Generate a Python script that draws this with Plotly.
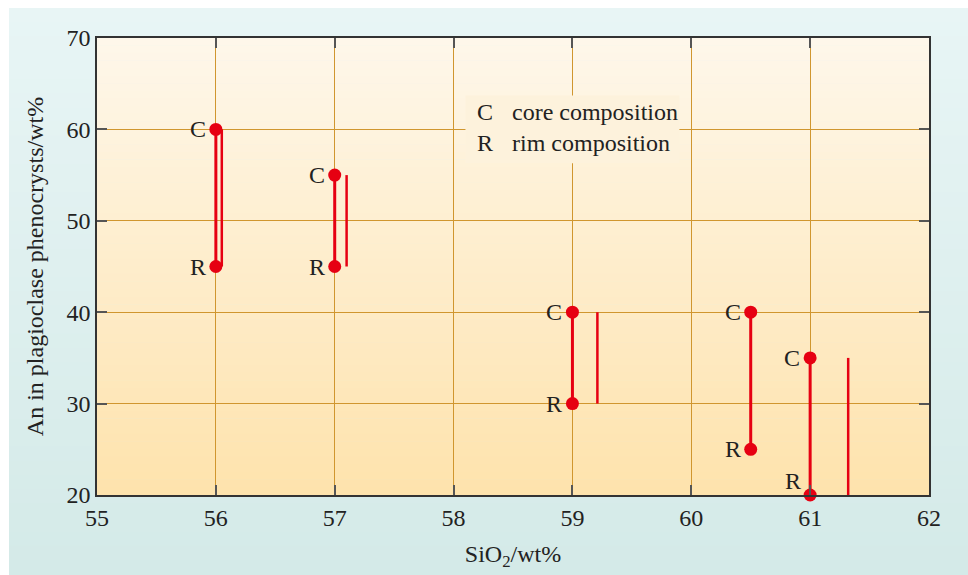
import plotly.graph_objects as go

# Plagioclase core / rim compositions versus whole-rock SiO2
sio2 = [56, 57, 59, 60.5, 61]
an_core = [60, 55, 40, 40, 35]
an_rim = [45, 45, 30, 25, 20]

# Offset range bars drawn beside the core–rim pairs
bar_x = [56.05, 57.1, 59.21, 61.32]
bar_top = [60, 55, 40, 35]
bar_bottom = [45, 45, 30, 20]

x_ticks = [55, 56, 57, 58, 59, 60, 61, 62]
y_ticks = [20, 30, 40, 50, 60, 70]

RED = "#e60012"
SERIF = "Liberation Serif, Times New Roman, serif"
TXT = "#222222"
FS = 24

W, H = 968, 575
ML, MR, MT, MB = 97, 39, 38, 80


def mix(c1, c2, t):
    a = [int(c1[i:i + 2], 16) for i in (1, 3, 5)]
    b = [int(c2[i:i + 2], 16) for i in (1, 3, 5)]
    return "#%02x%02x%02x" % tuple(round(a[k] + (b[k] - a[k]) * t) for k in range(3))


fig = go.Figure()

# core-to-rim tie lines
for x, c, r in zip(sio2, an_core, an_rim):
    fig.add_trace(go.Scatter(x=[x, x], y=[c, r], mode="lines",
                             line=dict(color=RED, width=3), hoverinfo="skip"))
for x, t, b in zip(bar_x, bar_top, bar_bottom):
    fig.add_trace(go.Scatter(x=[x, x], y=[t, b], mode="lines",
                             line=dict(color=RED, width=2.5), hoverinfo="skip"))

# end markers
fig.add_trace(go.Scatter(x=sio2, y=an_core, mode="markers",
                         marker=dict(color=RED, size=13), cliponaxis=False))
fig.add_trace(go.Scatter(x=sio2, y=an_rim, mode="markers",
                         marker=dict(color=RED, size=13), cliponaxis=False))

annotations = []
label_font = dict(family=SERIF, size=FS, color=TXT)
for x, c in zip(sio2, an_core):
    annotations.append(dict(x=x, y=c, xref="x", yref="y", text="C", showarrow=False,
                            xanchor="right", yanchor="middle", xshift=-8, font=label_font))
for i, (x, r) in enumerate(zip(sio2, an_rim)):
    last = i == len(sio2) - 1
    annotations.append(dict(x=x, y=r, xref="x", yref="y", text="R", showarrow=False,
                            xanchor="right", yanchor="middle",
                            xshift=-7 if last else -8, yshift=14 if last else 0,
                            font=label_font))

shapes = []
# page panel with a soft teal gradient
n = 40
px0, px1 = (9 - ML) / (W - ML - MR), (W - ML) / (W - ML - MR)
ph = H - MT - MB
py_top, py_bot = (H - MB - 9) / ph, (H - MB - H) / ph
for i in range(n):
    y0 = py_top - (py_top - py_bot) * i / n
    y1 = py_top - (py_top - py_bot) * (i + 1) / n
    shapes.append(dict(type="rect", xref="paper", yref="paper", x0=px0, x1=px1,
                       y0=y1, y1=y0 + 0.002, fillcolor=mix("#e8f5f5", "#d4eae8", i / (n - 1)),
                       line=dict(width=0), layer="below"))

# plot area: cream at the top fading to light orange at the bottom
m = 60
for i in range(m):
    shapes.append(dict(type="rect", xref="x domain", yref="y domain", x0=0, x1=1,
                       y0=1 - (i + 1) / m, y1=1 - i / m + 0.001,
                       fillcolor=mix("#fef7ea", "#fee3ad", i / (m - 1)),
                       line=dict(width=0), layer="below"))

# key box background
shapes.append(dict(type="rect", xref="x", yref="y", x0=58.1, x1=59.9, y0=56.3, y1=63.7,
                   fillcolor="#fdf2dc", line=dict(width=0), layer="above"))

for sym, txt, yv in [("C", "core composition", 61.9), ("R", "rim composition", 58.5)]:
    annotations.append(dict(x=58.18, y=yv, xref="x", yref="y", text=sym, showarrow=False,
                            xanchor="left", yanchor="middle", font=label_font))
    annotations.append(dict(x=58.475, y=yv, xref="x", yref="y", text=txt, showarrow=False,
                            xanchor="left", yanchor="middle", font=label_font))

axis_common = dict(showline=True, linecolor="#333333", linewidth=1.5, mirror="ticks",
                   ticks="inside", ticklen=10, tickwidth=1.5, tickcolor="#555555",
                   showgrid=True, gridcolor="#d0962f", gridwidth=1, zeroline=False,
                   tickfont=dict(family=SERIF, size=FS, color=TXT), automargin=False)

fig.update_layout(
    width=W, height=H,
    margin=dict(l=ML, r=MR, t=MT, b=MB),
    paper_bgcolor="white", plot_bgcolor="rgba(0,0,0,0)",
    showlegend=False,
    shapes=shapes, annotations=annotations,
    xaxis=dict(range=[55, 62], tickvals=x_ticks,
               title=dict(text="SiO<sub>2</sub>/wt%", standoff=16,
                          font=dict(family=SERIF, size=FS, color=TXT)),
               **axis_common),
    yaxis=dict(range=[20, 70], tickvals=y_ticks,
               title=dict(text="An in plagioclase phenocrysts/wt%", standoff=16,
                          font=dict(family=SERIF, size=FS, color=TXT)),
               **axis_common),
)

fig.write_html("out.html")
